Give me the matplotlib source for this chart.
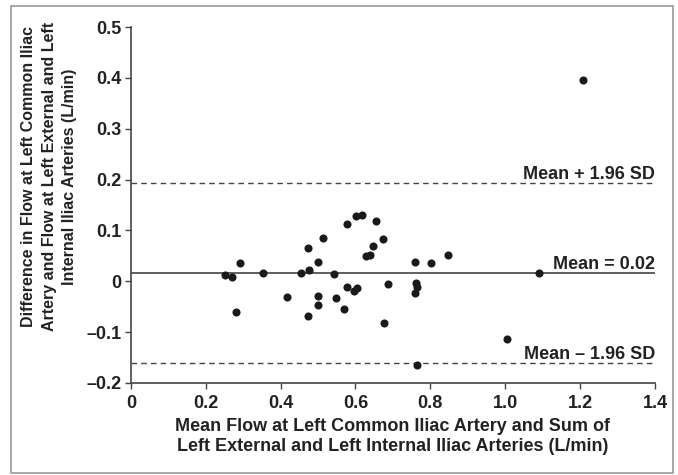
import numpy as np
import matplotlib.pyplot as plt
from matplotlib.patches import Rectangle

# Bland-Altman data: mean flow (x) vs difference in flow (y), L/min
mean_flow = [0.251, 0.270, 0.291, 0.280, 0.353, 0.417, 0.455, 0.476, 0.472, 0.473,
             0.500, 0.514, 0.501, 0.501, 0.543, 0.547, 0.570, 0.577, 0.578, 0.595,
             0.603, 0.602, 0.617, 0.628, 0.640, 0.648, 0.655, 0.673, 0.676, 0.686,
             0.760, 0.763, 0.765, 0.760, 0.764, 0.803, 0.848, 1.091, 1.005, 1.208]
diff_flow = [0.013, 0.009, 0.035, -0.061, 0.016, -0.031, 0.017, 0.022, 0.065, -0.068,
             0.037, 0.085, -0.030, -0.046, 0.014, -0.033, -0.055, -0.011, 0.112, -0.019,
             -0.013, 0.128, 0.130, 0.050, 0.052, 0.070, 0.118, 0.084, -0.083, -0.005,
             0.037, -0.004, -0.011, -0.023, -0.164, 0.035, 0.052, 0.017, -0.114, 0.396]

bias = 0.016
sd = 0.09
upper = bias + 1.96 * sd
lower = bias - 1.96 * sd

x_ticks = [0, 0.2, 0.4, 0.6, 0.8, 1.0, 1.2, 1.4]
x_tick_labels = ["0", "0.2", "0.4", "0.6", "0.8", "1.0", "1.2", "1.4"]
y_ticks = [-0.2, -0.1, 0, 0.1, 0.2, 0.3, 0.4, 0.5]
y_tick_labels = ["\u20130.2", "\u20130.1", "0", "0.1", "0.2", "0.3", "0.4", "0.5"]

plt.rcParams['font.family'] = ['Liberation Sans', 'DejaVu Sans']
plt.rcParams['font.weight'] = 'bold'

fig = plt.figure(figsize=(6.78, 4.75), dpi=100)
ax = fig.add_axes([0.193, 0.194, 0.773, 0.749])

ink = '#222222'
ax.scatter(mean_flow, diff_flow, s=34, color='#1a1a1a', zorder=3, linewidths=0)

ax.axhline(bias, color='#444444', lw=1.2)
ax.axhline(upper, color='#444444', lw=1.0, ls=(0, (4, 3)))
ax.axhline(lower, color='#444444', lw=1.0, ls=(0, (4, 3)))

ax.text(1.4, upper + 0.008, "Mean + 1.96 SD", ha='right', va='baseline',
        fontsize=13, fontweight='bold', color=ink)
ax.text(1.4, bias + 0.008, f"Mean = {bias:.2f}", ha='right', va='baseline',
        fontsize=13, fontweight='bold', color=ink)
ax.text(1.4, lower + 0.008, "Mean \u2013 1.96 SD", ha='right', va='baseline',
        fontsize=13, fontweight='bold', color=ink)

ax.set_xlim(0, 1.4)
ax.set_ylim(-0.2, 0.5)
ax.set_xticks(x_ticks)
ax.set_xticklabels(x_tick_labels)
ax.set_yticks(y_ticks)
ax.set_yticklabels(y_tick_labels)
ax.tick_params(labelsize=13, length=4, width=1, color='#444444', labelcolor=ink, pad=3)
ax.tick_params(axis='x', pad=5)

for side in ['top', 'right']:
    ax.spines[side].set_visible(False)
for side in ['left', 'bottom']:
    ax.spines[side].set_color('#444444')
    ax.spines[side].set_linewidth(1.2)

ax.set_xlabel("Mean Flow at Left Common Iliac Artery and Sum of\n"
              "Left External and Left Internal Iliac Arteries (L/min)",
              fontsize=13, fontweight='bold', color=ink, linespacing=1.2, labelpad=4)

fig.text(0.0725, 0.628,
         "Difference in Flow at Left Common Iliac\n"
         "Artery and Flow at Left External and Left\n"
         "Internal Iliac Arteries (L/min)",
         rotation=90, ha='center', va='center', multialignment='center',
         fontsize=11.5, fontweight='bold', color=ink, linespacing=1.45)

# thin frame around the whole figure
fig.patches.append(Rectangle((0.016, 0.005), 0.976, 0.983, transform=fig.transFigure,
                             fill=False, edgecolor='#999999', lw=1.2))

fig.savefig("out.png", dpi=100)
